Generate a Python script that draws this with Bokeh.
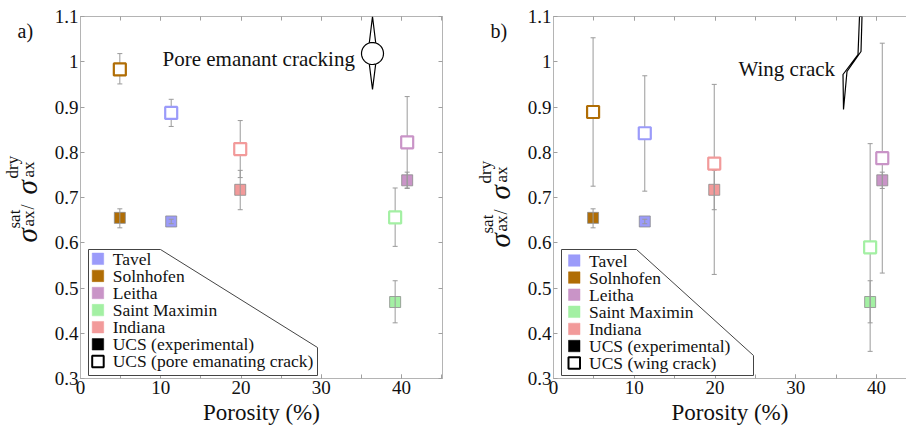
import math
import numpy as np
from bokeh.plotting import figure
from bokeh.layouts import row
from bokeh.models import (ColumnDataSource, Whisker, TeeHead, Label, PolyAnnotation,
                          BoxAnnotation, LinearAxis, SingleIntervalTicker,
                          CustomJSTickFormatter, Range1d)
from bokeh.embed import file_html
from bokeh.resources import INLINE

rocks = ["Tavel", "Solnhofen", "Leitha", "Saint Maximin", "Indiana"]
rock_colors = ["#9b9bfa", "#b06d05", "#c994c7", "#a3f0a3", "#f29a9a"]
porosity = [11.3, 4.9, 40.7, 39.2, 19.9]

# sat/dry UCS ratio, experimental
ucs_exp = [0.647, 0.655, 0.738, 0.469, 0.717]
ucs_exp_lo = [0.642, 0.633, 0.720, 0.423, 0.673]
ucs_exp_hi = [0.652, 0.675, 0.756, 0.516, 0.760]

# pore emanating crack model
ucs_pore = [0.887, 0.983, 0.822, 0.656, 0.807]
ucs_pore_lo = [0.857, 0.951, 0.721, 0.592, 0.744]
ucs_pore_hi = [0.917, 1.018, 0.923, 0.721, 0.870]

# wing crack model
ucs_wing = [0.842, 0.889, 0.787, 0.590, 0.775]
ucs_wing_lo = [0.714, 0.725, 0.533, 0.360, 0.530]
ucs_wing_hi = [0.969, 1.053, 1.041, 0.819, 0.950]

SERIF = "Liberation Serif"
AXIS = "#b4b4b4"
TICK = "#a0a0a0"
BAR = "#9a9a9a"
INK = "#111111"


def frame_label(p, text, x, y, size, angle=0.0, style="normal", baseline="alphabetic"):
    p.add_layout(Label(x=x, y=y, x_units="screen", y_units="screen", text=text,
                       angle=angle, text_font=SERIF, text_font_size=f"{size}px",
                       text_font_style=style, text_color=INK,
                       text_baseline=baseline, text_align="left"))


def upright(p, text, base_x, y, size, style="normal"):
    # text written upwards; base_x is where its baseline should sit
    frame_label(p, text, base_x - 0.34 * size, y, size, math.pi / 2, style, "middle")


def label_strip(width, tag, dx, dy):
    # narrow figure holding the panel tag and the rotated y label;
    # its frame lines up with the panel frames (16..378 px)
    p = figure(width=width, height=433, x_range=Range1d(0, 1), y_range=Range1d(0, 1),
               x_axis_type=None, y_axis_type=None, min_border=0,
               output_backend="svg", toolbar_location=None, tools="")
    p.outline_line_color = None
    p.grid.visible = False
    frame_label(p, tag, 17 + dx, 348, 20)
    upright(p, "σ", 36 + dx, 136 - dy, 29, "italic")
    upright(p, "sat", 20 + dx, 150 - dy, 17)
    upright(p, "ax", 34 + dx, 152 - dy, 17)
    upright(p, "/", 34 + dx, 169 - dy, 18)
    upright(p, "σ", 36 + dx, 184 - dy, 29, "italic")
    upright(p, "dry", 18 + dx, 200 - dy, 17)
    upright(p, "ax", 34 + dx, 201 - dy, 17)
    return p


def style_axis(ax, ticker, labels=True):
    ax.ticker = ticker
    ax.axis_line_color = AXIS
    ax.major_tick_line_color = TICK
    ax.minor_tick_line_color = TICK
    ax.major_tick_in = 4
    ax.major_tick_out = 0
    ax.minor_tick_in = 4
    ax.minor_tick_out = 0
    ax.major_label_text_font = SERIF
    ax.major_label_text_color = INK
    if labels:
        ax.major_label_text_font_size = "19px"
        ax.major_label_standoff = 2
    else:
        ax.formatter = CustomJSTickFormatter(code="return ''")
        ax.major_label_text_font_size = "8px"
        ax.major_label_standoff = 0


def panel(width, border_left, border_right, x_end, model_y, model_lo, model_hi, right_axis):
    p = figure(width=width, height=433, x_range=Range1d(0, x_end), y_range=Range1d(0.3, 1.1),
               output_backend="svg", toolbar_location=None, tools="",
               min_border_left=border_left, min_border_right=border_right,
               min_border_top=16, min_border_bottom=55)
    p.grid.visible = False
    p.outline_line_color = None

    style_axis(p.xaxis[0], SingleIntervalTicker(interval=10, num_minor_ticks=2))
    style_axis(p.yaxis[0], SingleIntervalTicker(interval=0.1, num_minor_ticks=0))
    p.yaxis[0].formatter = CustomJSTickFormatter(code="return (Math.round(tick*10)/10).toString()")
    p.xaxis[0].axis_label = "Porosity (%)"
    p.xaxis[0].axis_label_text_font = SERIF
    p.xaxis[0].axis_label_text_font_size = "23px"
    p.xaxis[0].axis_label_text_font_style = "normal"
    p.xaxis[0].axis_label_text_color = INK
    p.xaxis[0].axis_label_standoff = 3

    top = LinearAxis()
    style_axis(top, SingleIntervalTicker(interval=10, num_minor_ticks=2), labels=False)
    p.add_layout(top, "above")
    if right_axis:
        side = LinearAxis()
        style_axis(side, SingleIntervalTicker(interval=0.1, num_minor_ticks=0), labels=False)
        p.add_layout(side, "right")

    exp_src = ColumnDataSource(dict(x=porosity, y=ucs_exp, lo=ucs_exp_lo, hi=ucs_exp_hi,
                                    color=rock_colors))
    model_src = ColumnDataSource(dict(x=porosity, y=model_y, lo=model_lo, hi=model_hi,
                                      color=rock_colors))

    p.scatter("x", "y", source=exp_src, marker="square", size=11, fill_color="color",
              line_color="#8c8c8c", line_width=0.8)
    for src in (model_src, exp_src):
        p.add_layout(Whisker(source=src, base="x", upper="hi", lower="lo", level="annotation",
                             line_color=BAR, line_width=1,
                             upper_head=TeeHead(size=5, line_color=BAR, line_width=1),
                             lower_head=TeeHead(size=5, line_color=BAR, line_width=1)))
    p.scatter("x", "y", source=model_src, marker="square", size=12, fill_color="white",
              line_color="color", line_width=2.2, level="overlay")
    return p


def legend_box(p, names, corner_x, corner_y, right_x, x0, y_top):
    p.add_layout(PolyAnnotation(xs=[8, corner_x, right_x, right_x, 8],
                                ys=[129, 129, corner_y, 3, 3],
                                xs_units="screen", ys_units="screen",
                                fill_color="white", fill_alpha=1,
                                line_color="#444444", line_alpha=1, line_width=1))
    fills = rock_colors + ["black", "white"]
    for i, (name, fill) in enumerate(zip(names, fills)):
        yc = y_top - 17.1 * i
        edge = "black" if fill == "white" else fill
        p.add_layout(BoxAnnotation(left=x0, right=x0 + 11.5, bottom=yc - 5.75, top=yc + 5.75,
                                   left_units="screen", right_units="screen",
                                   bottom_units="screen", top_units="screen",
                                   fill_color=fill, fill_alpha=1, line_color=edge,
                                   line_alpha=1, line_width=2 if fill == "white" else 0.5))
        frame_label(p, name, x0 + 20.5, yc, 17.5, baseline="middle")


def shape(p, xs, ys):
    p.add_layout(PolyAnnotation(xs=list(xs), ys=list(ys), xs_units="screen", ys_units="screen",
                                fill_color="white", fill_alpha=1, line_color="black",
                                line_alpha=1, line_width=1.2))


# a) pore emanating crack
left_strip = label_strip(45, "a)", 0, 0)
left = panel(408, 35, 11, 45.1, ucs_pore, ucs_pore_lo, ucs_pore_hi, True)
legend_box(left, rocks + ["UCS (experimental)", "UCS (pore emanating crack)"],
           80, 31, 237, 11.7, 119.7)
frame_label(left, "Pore emanant cracking", 82, 320, 21)
shape(left, [292, 296.5, 292, 287.5], [362, 325, 289, 325])
theta = np.linspace(0, 2 * np.pi, 48)
shape(left, 292 + 11 * np.cos(theta), 325 + 11 * np.sin(theta))

# b) wing crack
right_strip = label_strip(64, "b)", 20, 5)
right = panel(389, 36, 0, 43.7, ucs_wing, ucs_wing_lo, ucs_wing_hi, False)
legend_box(right, rocks + ["UCS (experimental)", "UCS (wing crack)"],
           83, 23, 200, 15, 118)
frame_label(right, "Wing crack", 185, 310, 21)
shape(right, [308.5, 307.5, 293.5, 290, 289.5, 304.5, 306],
      [362, 327, 307, 269, 304, 324, 362])

page = row(left_strip, left, right_strip, right)
open("out.html", "w").write(file_html(page, INLINE, "UCS ratio"))
